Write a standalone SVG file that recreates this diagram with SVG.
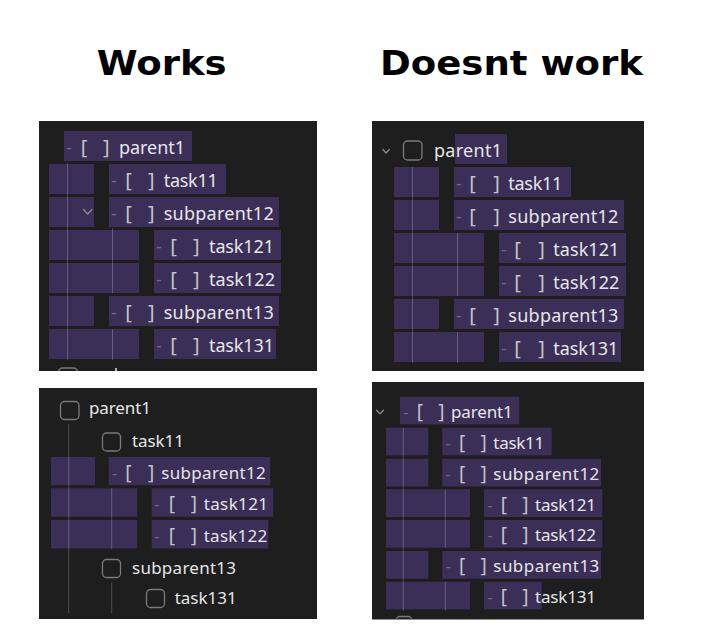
<svg xmlns="http://www.w3.org/2000/svg" width="713" height="640" viewBox="0 0 713 640">
<style>
.bg{fill:#ffffff}
.panel{fill:#1e1e1e}
.hl{fill:#3b2f58}
.guide{stroke:#ffffff;stroke-opacity:0.22;stroke-width:1}
.t{font-family:"Noto Sans","DejaVu Sans",sans-serif;font-size:18px;fill:#e6e6e6}
.s{font-size:17px}
.dash{fill:#6e6880}
.br{fill:#c4c4c4;font-size:20px}
.s .br{font-size:19px}
.cb{fill:none;stroke:#7a7a7a;stroke-width:1.3}
.chev{fill:none;stroke:#8c8c8c;stroke-width:1.3;stroke-linecap:round;stroke-linejoin:round}
.title{font-family:"DejaVu Sans","Liberation Sans",sans-serif;font-weight:bold;font-size:33px;fill:#000000}
</style>
<defs>
<clipPath id="clip1"><rect x="39" y="121" width="278" height="250"/></clipPath>
<clipPath id="clip4"><rect x="372" y="382" width="272" height="237.5"/></clipPath>
</defs>
<rect class="bg" x="0" y="0" width="713" height="640"/>

<g id="titles">
<text class="title" x="96.7" y="75" textLength="130" lengthAdjust="spacingAndGlyphs">Works</text>
<text class="title" x="380" y="75" textLength="263" lengthAdjust="spacingAndGlyphs">Doesnt work</text>
</g>

<!-- Panel 1: Works (top) -->
<g id="panel1">
<rect class="panel" x="39" y="121" width="278" height="250"/>
<g id="p1-parent1">
<rect class="hl" x="64" y="131" width="128" height="30"/>
<text class="t" y="153.7"><tspan class="dash" x="66">-</tspan><tspan class="br" x="80.7">[</tspan><tspan class="br" x="103">]</tspan><tspan x="119" textLength="66">parent1</tspan></text>
</g>
<g id="p1-task11">
<rect class="hl" x="49" y="164" width="45" height="30"/>
<rect class="hl" x="109" y="164" width="117" height="30"/>
<text class="t" y="186.7"><tspan class="dash" x="111">-</tspan><tspan class="br" x="125.3">[</tspan><tspan class="br" x="148">]</tspan><tspan x="163.7" textLength="54">task11</tspan></text>
</g>
<g id="p1-subparent12">
<rect class="hl" x="49" y="197" width="45" height="30"/>
<rect class="hl" x="109" y="197" width="170" height="30"/>
<path class="chev" d="M83.5,209.5 L87.7,214 L92,209.5"/>
<text class="t" y="219.7"><tspan class="dash" x="111">-</tspan><tspan class="br" x="125.3">[</tspan><tspan class="br" x="148">]</tspan><tspan x="163.7" textLength="110">subparent12</tspan></text>
</g>
<g id="p1-task121">
<rect class="hl" x="49" y="230" width="90" height="30"/>
<rect class="hl" x="154" y="230" width="127" height="30"/>
<text class="t" y="252.7"><tspan class="dash" x="156">-</tspan><tspan class="br" x="170.3">[</tspan><tspan class="br" x="193">]</tspan><tspan x="209" textLength="65">task121</tspan></text>
</g>
<g id="p1-task122">
<rect class="hl" x="49" y="263" width="90" height="30"/>
<rect class="hl" x="154" y="263" width="127" height="30"/>
<text class="t" y="285.7"><tspan class="dash" x="156">-</tspan><tspan class="br" x="170.3">[</tspan><tspan class="br" x="193">]</tspan><tspan x="209" textLength="66">task122</tspan></text>
</g>
<g id="p1-subparent13">
<rect class="hl" x="49" y="296" width="45" height="30"/>
<rect class="hl" x="109" y="296" width="170" height="30"/>
<text class="t" y="318.7"><tspan class="dash" x="111">-</tspan><tspan class="br" x="125.3">[</tspan><tspan class="br" x="148">]</tspan><tspan x="163.7" textLength="110">subparent13</tspan></text>
</g>
<g id="p1-task131">
<rect class="hl" x="49" y="329" width="90" height="30"/>
<rect class="hl" x="154" y="329" width="122" height="30"/>
<text class="t" y="351.7"><tspan class="dash" x="156">-</tspan><tspan class="br" x="170.3">[</tspan><tspan class="br" x="193">]</tspan><tspan x="209" textLength="65">task131</tspan></text>
</g>
<g clip-path="url(#clip1)">
<rect class="cb" x="58.5" y="368" width="19" height="19" rx="4"/>
<line x1="116" y1="368" x2="116" y2="372" stroke="#e6e6e6" stroke-width="1.5"/>
</g>
<g id="p1-guides">
<line class="guide" x1="67.5" y1="163" x2="67.5" y2="360"/>
<line class="guide" x1="112.5" y1="228" x2="112.5" y2="293"/>
<line class="guide" x1="112.5" y1="329" x2="112.5" y2="360"/>
</g>
</g>

<!-- Panel 2: Doesnt work (top) -->
<g id="panel2">
<rect class="panel" x="372" y="121" width="272" height="250"/>
<g id="p2-parent1">
<path class="chev" d="M383,149.5 L386,153 L389.3,149.5"/>
<rect class="hl" x="455" y="134" width="52" height="30"/>
<rect class="cb" x="403.5" y="141" width="18.5" height="19" rx="4"/>
<text class="t" x="434" y="156.7" textLength="68">parent1</text>
</g>
<g id="p2-task11">
<rect class="hl" x="394" y="167" width="45" height="30"/>
<rect class="hl" x="454" y="167" width="117" height="30"/>
<text class="t" y="189.7"><tspan class="dash" x="456">-</tspan><tspan class="br" x="469.3">[</tspan><tspan class="br" x="493.3">]</tspan><tspan x="508.3" textLength="54">task11</tspan></text>
</g>
<g id="p2-subparent12">
<rect class="hl" x="394" y="200" width="45" height="30"/>
<rect class="hl" x="454" y="200" width="170" height="30"/>
<text class="t" y="222.7"><tspan class="dash" x="456">-</tspan><tspan class="br" x="469.3">[</tspan><tspan class="br" x="493.3">]</tspan><tspan x="508.3" textLength="110">subparent12</tspan></text>
</g>
<g id="p2-task121">
<rect class="hl" x="394" y="233" width="90" height="30"/>
<rect class="hl" x="499" y="233" width="127" height="30"/>
<text class="t" y="255.7"><tspan class="dash" x="501">-</tspan><tspan class="br" x="514.3">[</tspan><tspan class="br" x="538.3">]</tspan><tspan x="553.3" textLength="66">task121</tspan></text>
</g>
<g id="p2-task122">
<rect class="hl" x="394" y="266" width="90" height="30"/>
<rect class="hl" x="499" y="266" width="127" height="30"/>
<text class="t" y="288.7"><tspan class="dash" x="501">-</tspan><tspan class="br" x="514.3">[</tspan><tspan class="br" x="538.3">]</tspan><tspan x="553.3" textLength="66">task122</tspan></text>
</g>
<g id="p2-subparent13">
<rect class="hl" x="394" y="299" width="45" height="30"/>
<rect class="hl" x="454" y="299" width="170" height="30"/>
<text class="t" y="321.7"><tspan class="dash" x="456">-</tspan><tspan class="br" x="469.3">[</tspan><tspan class="br" x="493.3">]</tspan><tspan x="508.3" textLength="110">subparent13</tspan></text>
</g>
<g id="p2-task131">
<rect class="hl" x="394" y="332" width="90" height="30"/>
<rect class="hl" x="499" y="332" width="122" height="30"/>
<text class="t" y="354.7"><tspan class="dash" x="501">-</tspan><tspan class="br" x="514.3">[</tspan><tspan class="br" x="538.3">]</tspan><tspan x="553.3" textLength="65">task131</tspan></text>
</g>
<g id="p2-guides">
<line class="guide" x1="412.5" y1="167" x2="412.5" y2="363"/>
<line class="guide" x1="457.5" y1="233" x2="457.5" y2="296"/>
<line class="guide" x1="457.5" y1="332" x2="457.5" y2="363"/>
</g>
</g>

<!-- Panel 3: Works (bottom) -->
<g id="panel3">
<rect class="panel" x="39" y="388" width="278" height="231"/>
<g id="p3-parent1">
<rect class="cb" x="60.5" y="401.5" width="18.5" height="18" rx="4"/>
<text class="t s" x="89" y="414.3" textLength="62">parent1</text>
</g>
<g id="p3-task11">
<rect class="cb" x="102.5" y="433" width="18" height="18" rx="4"/>
<text class="t s" x="132" y="446.7" textLength="52">task11</text>
</g>
<g id="p3-subparent12">
<rect class="hl" x="51" y="457" width="44" height="28.3"/>
<rect class="hl" x="108.7" y="457" width="161.6" height="28.3"/>
<text class="t s" y="478.5"><tspan class="dash" x="112">-</tspan><tspan class="br" x="125.3">[</tspan><tspan class="br" x="148">]</tspan><tspan x="161.3" textLength="104.4">subparent12</tspan></text>
</g>
<g id="p3-task121">
<rect class="hl" x="51" y="488.3" width="86.3" height="28.4"/>
<rect class="hl" x="151.7" y="488.3" width="121.6" height="28.4"/>
<text class="t s" y="510"><tspan class="dash" x="154">-</tspan><tspan class="br" x="168.7">[</tspan><tspan class="br" x="190.7">]</tspan><tspan x="203.7" textLength="64.3">task121</tspan></text>
</g>
<g id="p3-task122">
<rect class="hl" x="51" y="520" width="86.3" height="28.4"/>
<rect class="hl" x="151.7" y="520" width="116.6" height="28.4"/>
<text class="t s" y="541.7"><tspan class="dash" x="154">-</tspan><tspan class="br" x="168.7">[</tspan><tspan class="br" x="190.7">]</tspan><tspan x="203.7" textLength="63.6">task122</tspan></text>
</g>
<g id="p3-subparent13">
<rect class="cb" x="102.5" y="559.5" width="18" height="18" rx="4"/>
<text class="t s" x="132" y="574.3" textLength="104">subparent13</text>
</g>
<g id="p3-task131">
<rect class="cb" x="146.5" y="589.5" width="18" height="18" rx="4"/>
<text class="t s" x="174.7" y="604.3" textLength="62">task131</text>
</g>
<g id="p3-guides">
<line class="guide" x1="68.7" y1="424" x2="68.7" y2="613"/>
<line class="guide" x1="111.7" y1="488.3" x2="111.7" y2="549.3"/>
<line class="guide" x1="111.7" y1="582.7" x2="111.7" y2="613"/>
</g>
</g>

<!-- Panel 4: Doesnt work (bottom) -->
<g id="panel4">
<rect class="panel" x="372" y="382" width="272" height="237.5"/>
<g id="p4-parent1">
<path class="chev" d="M376.5,410.3 L380,413.8 L383.5,410.3"/>
<rect class="hl" x="400" y="396.7" width="119.3" height="27.7"/>
<text class="t s" y="418"><tspan class="dash" x="403.3">-</tspan><tspan class="br" x="416.7">[</tspan><tspan class="br" x="438.3">]</tspan><tspan x="451" textLength="61.7">parent1</tspan></text>
</g>
<g id="p4-task11">
<rect class="hl" x="386" y="427.7" width="42.3" height="27.7"/>
<rect class="hl" x="442.3" y="427.7" width="109.4" height="27.7"/>
<text class="t s" y="449"><tspan class="dash" x="445.6">-</tspan><tspan class="br" x="459">[</tspan><tspan class="br" x="480.6">]</tspan><tspan x="493.3" textLength="51">task11</tspan></text>
</g>
<g id="p4-subparent12">
<rect class="hl" x="386" y="458.7" width="42.3" height="27.7"/>
<rect class="hl" x="442.3" y="458.7" width="158.7" height="27.7"/>
<text class="t s" y="480"><tspan class="dash" x="445.6">-</tspan><tspan class="br" x="459">[</tspan><tspan class="br" x="480.6">]</tspan><tspan x="493.3" textLength="106">subparent12</tspan></text>
</g>
<g id="p4-task121">
<rect class="hl" x="386" y="489.3" width="84" height="27.7"/>
<rect class="hl" x="484" y="489.3" width="118.3" height="27.7"/>
<text class="t s" y="510.6"><tspan class="dash" x="487.3">-</tspan><tspan class="br" x="500.7">[</tspan><tspan class="br" x="522.3">]</tspan><tspan x="535" textLength="61">task121</tspan></text>
</g>
<g id="p4-task122">
<rect class="hl" x="386" y="520" width="84" height="27.7"/>
<rect class="hl" x="484" y="520" width="118.3" height="27.7"/>
<text class="t s" y="541.3"><tspan class="dash" x="487.3">-</tspan><tspan class="br" x="500.7">[</tspan><tspan class="br" x="522.3">]</tspan><tspan x="535" textLength="61">task122</tspan></text>
</g>
<g id="p4-subparent13">
<rect class="hl" x="386" y="551" width="42.3" height="27.7"/>
<rect class="hl" x="442.3" y="551" width="158.7" height="27.7"/>
<text class="t s" y="572.3"><tspan class="dash" x="445.6">-</tspan><tspan class="br" x="459">[</tspan><tspan class="br" x="480.6">]</tspan><tspan x="493.3" textLength="106">subparent13</tspan></text>
</g>
<g id="p4-task131">
<rect class="hl" x="386" y="581.7" width="84" height="27.7"/>
<rect class="hl" x="484" y="581.7" width="57.7" height="27.7"/>
<text class="t s" y="603"><tspan class="dash" x="487.3">-</tspan><tspan class="br" x="500.7">[</tspan><tspan class="br" x="522.3">]</tspan><tspan x="535" textLength="61">task131</tspan></text>
</g>
<g clip-path="url(#clip4)">
<rect class="cb" x="396" y="616.5" width="16" height="16" rx="4"/>
</g>
<g id="p4-guides">
<line class="guide" x1="403.3" y1="427.7" x2="403.3" y2="610.7"/>
<line class="guide" x1="445.3" y1="489.3" x2="445.3" y2="547.7"/>
<line class="guide" x1="445.3" y1="581.7" x2="445.3" y2="610.7"/>
</g>
</g>
</svg>
